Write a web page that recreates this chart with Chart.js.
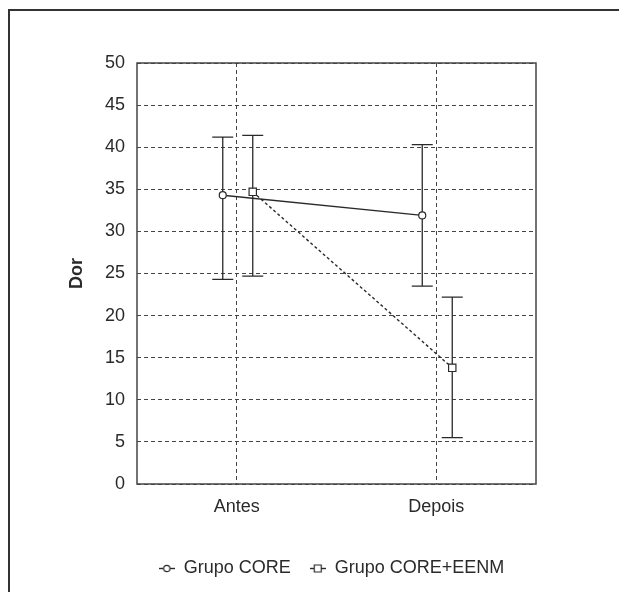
<!DOCTYPE html>
<html>
<head>
<meta charset="utf-8">
<script src="https://cdn.jsdelivr.net/npm/chart.js@4/dist/chart.umd.min.js"></script>
<style>
  html, body { margin: 0; padding: 0; background: #fff; }
  #wrap { width: 619px; height: 592px; }
</style>
</head>
<body>
<div id="wrap"><canvas id="painChart" width="619" height="592"></canvas></div>
<script>
var categories = ['Antes', 'Depois'];
var yTicks = [0, 5, 10, 15, 20, 25, 30, 35, 40, 45, 50];

var coreMean  = [34.3, 31.9];
var coreUpper = [41.2, 40.3];
var coreLower = [24.3, 23.5];

var eenmMean  = [34.7, 13.8];
var eenmUpper = [41.4, 22.2];
var eenmLower = [24.7, 5.5];

var FONT = "'Liberation Sans', Arial, sans-serif";
var INK = '#2a2a2a';

// small canvas markers for the legend: a short line with the point on it
function legendMarker(kind) {
    var c = document.createElement('canvas');
    c.width = 16; c.height = 10;
    var g = c.getContext('2d');
    g.strokeStyle = INK; g.lineWidth = 1.4;
    g.beginPath(); g.moveTo(0, 5.5); g.lineTo(16, 5.5); g.stroke();
    g.fillStyle = '#fff';
    g.lineWidth = 1.2;
    g.beginPath();
    if (kind === 'circle') g.arc(8, 5.5, 3.2, 0, Math.PI * 2);
    else g.rect(4.5, 2, 7, 7);
    g.fill(); g.stroke();
    return c;
}

// move the two series a little left / right of the category line
var shiftPoints = {
    id: 'shiftPoints',
    afterDatasetsUpdate: function(chart) {
        chart.data.datasets.forEach(function(ds, i) {
            chart.getDatasetMeta(i).data.forEach(function(pt) { pt.x += ds.dx; });
        });
    }
};

var errorBars = {
    id: 'errorBars',
    beforeDatasetsDraw: function(chart) {
        var ctx = chart.ctx, y = chart.scales.y, a = chart.chartArea;
        // plot frame
        ctx.save();
        ctx.strokeStyle = '#444';
        ctx.lineWidth = 1.5;
        ctx.strokeRect(a.left, a.top, a.right - a.left, a.bottom - a.top);
        ctx.strokeStyle = INK;
        ctx.lineWidth = 1.3;
        chart.data.datasets.forEach(function(ds, i) {
            chart.getDatasetMeta(i).data.forEach(function(pt, j) {
                var t = y.getPixelForValue(ds.upper[j]);
                var b = y.getPixelForValue(ds.lower[j]);
                ctx.beginPath();
                ctx.moveTo(pt.x, t); ctx.lineTo(pt.x, b);
                ctx.moveTo(pt.x - 10.5, t); ctx.lineTo(pt.x + 10.5, t);
                ctx.moveTo(pt.x - 10.5, b); ctx.lineTo(pt.x + 10.5, b);
                ctx.stroke();
            });
        });
        ctx.restore();
    },
    beforeDraw: function(chart) {
        var ctx = chart.ctx;
        ctx.save();
        ctx.strokeStyle = '#333';
        ctx.lineWidth = 2;
        ctx.beginPath();
        ctx.moveTo(9, 600); ctx.lineTo(9, 10); ctx.lineTo(630, 10);
        ctx.stroke();
        ctx.restore();
    }
};

var ctx = document.getElementById('painChart').getContext('2d');

var myChart = new Chart(ctx, {
    type: 'line',
    data: {
        labels: categories,
        datasets: [{
            label: 'Grupo CORE',
            data: coreMean,
            upper: coreUpper,
            lower: coreLower,
            dx: -14,
            borderColor: INK,
            borderWidth: 1.4,
            pointStyle: 'circle',
            pointRadius: 3.5,
            pointBorderWidth: 1.2,
            pointBackgroundColor: '#fff',
            pointBorderColor: INK,
            marker: legendMarker('circle')
        }, {
            label: 'Grupo CORE+EENM',
            data: eenmMean,
            upper: eenmUpper,
            lower: eenmLower,
            dx: 16,
            borderColor: INK,
            borderWidth: 1.4,
            borderDash: [3, 2.5],
            pointStyle: 'rect',
            pointRadius: 5.2,
            pointBorderWidth: 1.2,
            pointBackgroundColor: '#fff',
            pointBorderColor: INK,
            marker: legendMarker('rect')
        }]
    },
    options: {
        responsive: false,
        animation: false,
        layout: { padding: { left: 44, top: 63, right: 0, bottom: 5 } },
        plugins: {
            tooltip: { enabled: false },
            legend: {
                position: 'bottom',
                labels: {
                    usePointStyle: true,
                    pointStyleWidth: 16,
                    padding: 19,
                    color: INK,
                    font: { family: FONT, size: 18 },
                    generateLabels: function(chart) {
                        return chart.data.datasets.map(function(ds, i) {
                            return { text: ds.label, pointStyle: ds.marker, datasetIndex: i,
                                     fontColor: INK, lineWidth: 0, strokeStyle: 'transparent', fillStyle: 'transparent' };
                        });
                    }
                }
            }
        },
        scales: {
            x: {
                offset: true,
                grid: { offset: false, color: '#444', lineWidth: 1, drawTicks: false },
                border: { display: false, dash: [4, 3] },
                ticks: { color: INK, padding: 12, font: { family: FONT, size: 18 } },
                afterFit: function(s) { s.height = 56; }
            },
            y: {
                min: 0,
                max: 50,
                afterBuildTicks: function(s) { s.ticks = yTicks.map(function(v) { return { value: v }; }); },
                grid: { color: '#444', lineWidth: 1, drawTicks: false },
                border: { display: false, dash: [4, 3] },
                ticks: { color: INK, padding: 12, font: { family: FONT, size: 18 } },
                title: {
                    display: true,
                    text: 'Dor',
                    color: INK,
                    padding: { top: 22, bottom: 0 },
                    font: { family: FONT, size: 18, weight: 'bold' }
                },
                afterFit: function(s) { s.width = 93; }
            },
            y2: {
                position: 'right',
                display: true,
                grid: { display: false, drawTicks: false },
                border: { display: false },
                ticks: { display: false },
                afterFit: function(s) { s.width = 83; }
            }
        }
    },
    plugins: [shiftPoints, errorBars]
});
</script>
</body>
</html>
